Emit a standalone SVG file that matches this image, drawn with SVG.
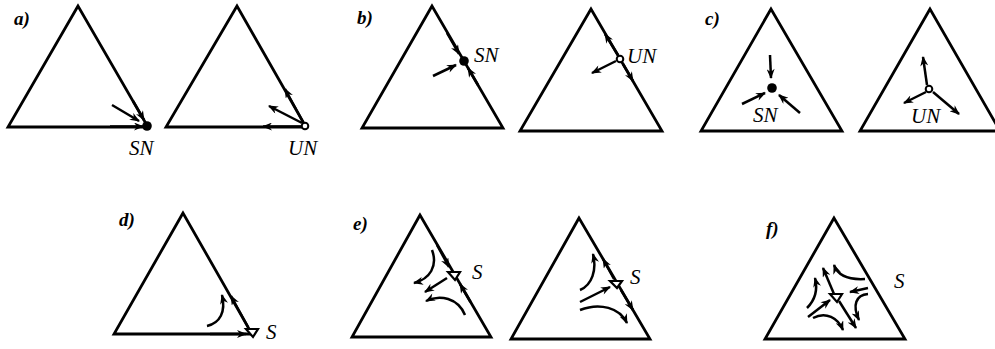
<svg xmlns="http://www.w3.org/2000/svg" width="995" height="349" viewBox="0 0 995 349">
<style>
.tri{fill:none;stroke:#000;stroke-width:2.8;stroke-linejoin:miter}
.ar{fill:none;stroke:#000;stroke-width:2.5;marker-end:url(#ah)}
.lab{font-family:"Liberation Serif","DejaVu Serif",serif;font-style:italic;font-weight:bold;font-size:19px}
.nm{font-family:"Liberation Serif","DejaVu Serif",serif;font-style:italic;font-size:21px}
.sd{fill:#fff;stroke:#000;stroke-width:2.2}
.un{fill:#fff;stroke:#000;stroke-width:2}
</style>
<defs>
<marker id="ah" viewBox="0 0 10 8" refX="9" refY="4" markerWidth="11" markerHeight="8" markerUnits="userSpaceOnUse" orient="auto"><path d="M0,0 L10,4 L0,8 L3,4 z" fill="#000"/></marker>
</defs>
<rect width="995" height="349" fill="#fff"/>
<g id="panel-a">
<text class="lab" x="14" y="25">a)</text>
<polygon class="tri" points="78,6 8,127 148,127"/>
<polygon class="tri" points="237,6 166,127 306,127"/>
<circle cx="147" cy="126" r="4.8" fill="#000"/>
<circle class="un" cx="305" cy="126" r="3.3"/>
<text class="nm" x="129" y="155">SN</text>
<text class="nm" x="288" y="155">UN</text>
</g>
<g id="panel-b">
<text class="lab" x="357" y="24">b)</text>
<polygon class="tri" points="432,6 362,128 503,128"/>
<polygon class="tri" points="591,9 520,131 662,131"/>
<circle cx="464" cy="61" r="4.8" fill="#000"/>
<circle class="un" cx="620" cy="59" r="3.3"/>
<text class="nm" x="474" y="62">SN</text>
<text class="nm" x="627" y="63">UN</text>
</g>
<g id="panel-c">
<text class="lab" x="705" y="25">c)</text>
<polygon class="tri" points="771,9 701,131 842,131"/>
<polygon class="tri" points="930,9 860,131 1000,131"/>
<circle cx="772" cy="88" r="4.8" fill="#000"/>
<circle class="un" cx="929" cy="89" r="3.3"/>
<text class="nm" x="753" y="122">SN</text>
<text class="nm" x="911" y="123">UN</text>
</g>
<g id="panel-d">
<text class="lab" x="119" y="226">d)</text>
<polygon class="tri" points="183,213 114,334 252,334"/>
<polygon class="sd" points="246,329 258,329 253,337"/>
<text class="nm" x="266" y="339">S</text>
</g>
<g id="panel-e">
<text class="lab" x="353" y="230">e)</text>
<polygon class="tri" points="420,215 352,337 491,337"/>
<polygon class="tri" points="579,218 511,339 650,339"/>
<polygon class="sd" points="448,272 460,272 455,280"/>
<polygon class="sd" points="610,281 622,281 617,288"/>
<text class="nm" x="472" y="279">S</text>
<text class="nm" x="630" y="284">S</text>
</g>
<g id="panel-f">
<text class="lab" x="766" y="235">f)</text>
<polygon class="tri" points="834,218 765,339 905,339"/>
<polygon class="sd" points="830,294 842,294 837,302"/>
<text class="nm" x="894" y="288">S</text>
</g>
<g id="connectors">
<path class="ar" d="M110,126.5 L143,126.5"/>
<path class="ar" d="M133,101 L144,120"/>
<path class="ar" d="M112,105 L139,121"/>
<path class="ar" d="M301,126.5 L263,126.5"/>
<path class="ar" d="M303,122 L285,89"/>
<path class="ar" d="M302,123 L269,106"/>
<path class="ar" d="M447,33 L459,54"/>
<path class="ar" d="M478,85 L468,68"/>
<path class="ar" d="M433,76 L456,65"/>
<path class="ar" d="M618,55 L605,34"/>
<path class="ar" d="M623,64 L633,81"/>
<path class="ar" d="M616,61 L592,73"/>
<path class="ar" d="M770,55 L771,78"/>
<path class="ar" d="M742,104 L765,93"/>
<path class="ar" d="M800,113 L779,95"/>
<path class="ar" d="M927,85 L923,57"/>
<path class="ar" d="M926,92 L904,103"/>
<path class="ar" d="M933,92 L959,114"/>
<path class="ar" d="M210,334 L246,334"/>
<path class="ar" d="M248,327 L231,296"/>
<path class="ar" d="M207,326 C220,323 226,312 222,295"/>
<path class="ar" d="M437,245 L449,267"/>
<path class="ar" d="M470.5,302 L460,284"/>
<path class="ar" d="M432,250 C438,266 430,279 414,283"/>
<path class="ar" d="M447,278 L425,292"/>
<path class="ar" d="M465,315 C458,298 440,294 426,301"/>
<path class="ar" d="M614,279 L603,259"/>
<path class="ar" d="M621,290 L633,310"/>
<path class="ar" d="M580,290 C592,285 597,270 593,254"/>
<path class="ar" d="M580,302 L610,287"/>
<path class="ar" d="M580,310 C600,302 620,308 627,323"/>
<path class="ar" d="M865,279 C848,280 838,276 834,265"/>
<path class="ar" d="M868,288 L850,292"/>
<path class="ar" d="M868,294 C856,295 852,305 859,320"/>
<path class="ar" d="M839,301 L856,328"/>
<path class="ar" d="M813,318 C826,311 838,318 843,330"/>
<path class="ar" d="M808,317 L830,300"/>
<path class="ar" d="M807,308 C815,300 818,290 815,278"/>
<path class="ar" d="M834,294 L823,268"/>
</g>
</svg>
